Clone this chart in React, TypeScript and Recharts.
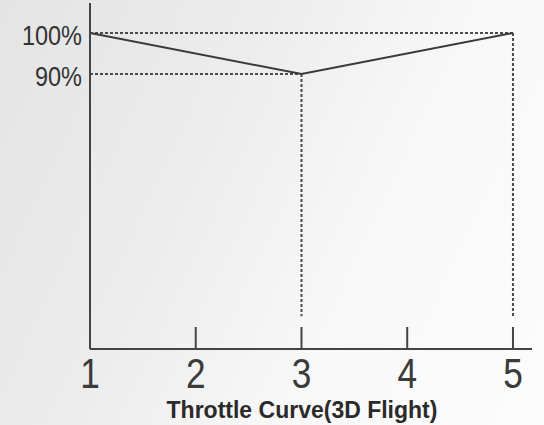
import React from 'react';
import { LineChart, Line, XAxis, YAxis, ReferenceLine } from 'recharts';

const stickPositions = [1, 2, 3, 4, 5];
const throttleValues = [100, 90, 100];
const curveStick = [1, 3, 5];
const yTickValues = [90, 100];
const yTickLabels = ['90%', '100%'];
const guideBottom = 31;
const yDomain: [number, number] = [23, 107.3];
const xDomain: [number, number] = [1, 5.18];
const title = 'Throttle Curve(3D Flight)';

const data = curveStick.map((s, i) => ({ stick: s, throttle: throttleValues[i] }));

const INK = '#333';
const FONT = '"Liberation Sans", Arial, sans-serif';

const XTick = (props: any) => {
  const { x, y, payload } = props;
  const v = payload.value;
  return (
    <g>
      {v !== 1 && <line x1={x} x2={x} y1={y} y2={y - 22} stroke="#444" strokeWidth={2} />}
      <g transform={`translate(${x},${y + 39}) scale(0.84,1)`}>
        <text x={0} y={0} textAnchor="middle" fontSize={42} fontFamily={FONT} fill="#3a3a3a">
          {String(v)}
        </text>
      </g>
    </g>
  );
};

const YTick = (props: any) => {
  const { x, y, payload } = props;
  const idx = yTickValues.indexOf(payload.value);
  return (
    <g transform={`translate(${x},${y + 2}) scale(0.87,1)`}>
      <text x={0} y={0} dy="0.36em" textAnchor="end" fontSize={27} fontFamily={FONT} fill={INK}>
        {yTickLabels[idx]}
      </text>
    </g>
  );
};

const TitleLabel = (props: any) => {
  const vb = props.viewBox || {};
  return (
    <text
      x={(vb.x ?? 0) + (vb.width ?? 0) / 2 - 9}
      y={(vb.y ?? 0) + 69}
      textAnchor="middle"
      fontSize={23}
      fontWeight="bold"
      fontFamily={FONT}
      fill="#2a2a2a"
    >
      {title}
    </text>
  );
};

const dash = { stroke: '#4a4a4a', strokeWidth: 2, strokeDasharray: '3 2' };

export default function App() {
  return (
    <div
      style={{
        position: 'absolute',
        left: 0,
        top: 0,
        width: 544,
        height: 425,
        background: 'linear-gradient(115deg, #e4e4e4 0%, #ececec 35%, #f8f8f8 65%, #fcfcfc 100%)',
      }}
    >
      <LineChart width={544} height={425} data={data} margin={{ top: 3, right: 12, bottom: 0, left: 0 }}>
        <XAxis
          dataKey="stick"
          type="number"
          domain={xDomain}
          ticks={stickPositions}
          allowDataOverflow
          height={76}
          tickLine={false}
          tickSize={0}
          tickMargin={0}
          tick={<XTick />}
          axisLine={{ stroke: '#444', strokeWidth: 2 }}
          label={<TitleLabel />}
        />
        <YAxis
          type="number"
          domain={yDomain}
          ticks={yTickValues}
          allowDataOverflow
          width={90}
          tickLine={false}
          tickSize={0}
          tickMargin={8}
          tick={<YTick />}
          axisLine={{ stroke: '#444', strokeWidth: 2 }}
        />
        <ReferenceLine segment={[{ x: 1, y: 100 }, { x: 5, y: 100 }]} {...dash} ifOverflow="visible" />
        <ReferenceLine segment={[{ x: 1, y: 90 }, { x: 3, y: 90 }]} {...dash} ifOverflow="visible" />
        <ReferenceLine segment={[{ x: 3, y: 90 }, { x: 3, y: guideBottom }]} {...dash} ifOverflow="visible" />
        <ReferenceLine segment={[{ x: 5, y: 100 }, { x: 5, y: guideBottom }]} {...dash} ifOverflow="visible" />
        <Line
          dataKey="throttle"
          type="linear"
          stroke="#3a3a3a"
          strokeWidth={2}
          dot={false}
          activeDot={false}
          isAnimationActive={false}
        />
      </LineChart>
    </div>
  );
}
